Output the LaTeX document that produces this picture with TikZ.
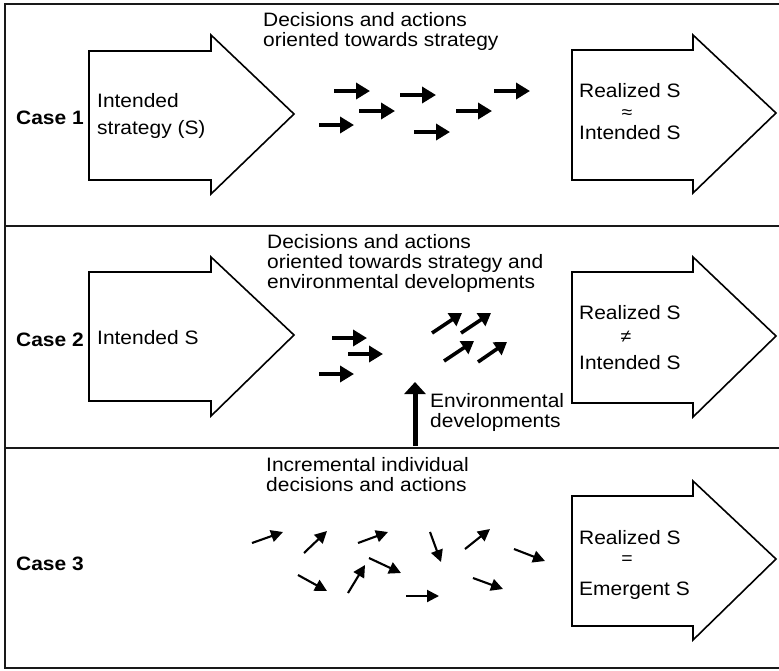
\documentclass[tikz,border=0pt]{standalone}
\usepackage{fontspec}
\setmainfont[FakeStretch=1.08]{Liberation Sans}
\usetikzlibrary{arrows.meta}
\begin{document}
\begin{tikzpicture}[x=1pt,y=-1pt,
  frame/.style={line width=2.2pt, color=black!90},
  bigarrow/.style={draw, line width=1.6pt, fill=white, line join=miter},
  txt/.style={inner sep=0pt, anchor=base west, font=\fontsize{19.4}{20}\selectfont, align=left},
  casename/.style={inner sep=0pt, anchor=base west, font=\fontsize{19.4}{20}\selectfont\bfseries},
  relsym/.style={inner sep=0pt, font=\fontsize{18}{18}\selectfont},
  thickarrow/.style={line width=4pt, -{Triangle[length=14pt,width=16pt]}},
  tiltarrow/.style={line width=3.6pt, -{Triangle[length=12pt,width=15pt]}},
  thinarrow/.style={line width=2.1pt, -{Triangle[length=12pt,width=12pt]}},
  envarrow/.style={line width=5pt, -{Triangle[length=12pt,width=21pt]}}
]
\useasboundingbox (0,0) rectangle (779,670);

% panel frame
\draw[frame] (779,4) -- (5,4) -- (5,668) -- (779,668);
\draw[frame] (5,226) -- (779,226);
\draw[frame] (5,448) -- (779,448);

% ---------- Case 1 ----------
\draw[bigarrow] (89,51) -- (211,51) -- (211,35) -- (294,114) -- (211,194) -- (211,180) -- (89,180) -- cycle;
\draw[bigarrow] (572,50) -- (693,50) -- (693,35) -- (776,113) -- (693,193) -- (693,180) -- (572,180) -- cycle;
\node[casename] (c1) at (16,124) {Case 1};
\node[txt] (c1in) at (97,134) {Intended\\[7pt]strategy (S)};
\node[txt] (c1t) at (263,46) {Decisions and actions\\oriented towards strategy};
\node[txt] (c1r1) at (579,97) {Realized S};
\node[relsym] (c1r2) at (627,114) {≈};
\node[txt] (c1r3) at (579,139) {Intended S};

\draw[thickarrow] (334,91) -- (370,91);
\draw[thickarrow] (359,111) -- (395,111);
\draw[thickarrow] (319,125) -- (354,125);
\draw[thickarrow] (400,95) -- (436,95);
\draw[thickarrow] (414,132) -- (450,132);
\draw[thickarrow] (456,111) -- (492,111);
\draw[thickarrow] (494,91) -- (530,91);

% ---------- Case 2 ----------
\draw[bigarrow] (89,272) -- (211,272) -- (211,257) -- (294,335) -- (211,416) -- (211,401) -- (89,401) -- cycle;
\draw[bigarrow] (572,272) -- (693,272) -- (693,257) -- (776,336) -- (693,417) -- (693,403) -- (572,403) -- cycle;
\node[casename] (c2) at (16,346) {Case 2};
\node[txt] (c2in) at (97,344) {Intended S};
\node[txt] (c2t) at (267,288) {Decisions and actions\\oriented towards strategy and\\environmental developments};
\node[txt] (c2r1) at (579,319) {Realized S};
\node[relsym] (c2r2) at (626,337) {≠};
\node[txt] (c2r3) at (579,369) {Intended S};

\draw[thickarrow] (332,338) -- (367,338);
\draw[thickarrow] (348,354) -- (383,354);
\draw[thickarrow] (319,374) -- (354,374);
\draw[tiltarrow] (432,333) -- (462,313);
\draw[tiltarrow] (461,333) -- (491,313);
\draw[tiltarrow] (444,361) -- (474,341);
\draw[tiltarrow] (478,362) -- (507,342);

\node[txt] (env) at (430,427) {Environmental\\developments};
\coordinate (envfoot) at (415,446);
\coordinate (envtip) at (415,382);
\draw[envarrow] (envfoot) -- (envtip);

% ---------- Case 3 ----------
\draw[bigarrow] (572,496) -- (693,496) -- (693,481) -- (776,559) -- (693,640) -- (693,626) -- (572,626) -- cycle;
\node[casename] (c3) at (16,570) {Case 3};
\node[txt] (c3t) at (266,491) {Incremental individual\\decisions and actions};
\node[txt] (c3r1) at (579,544) {Realized S};
\node[relsym] (c3r2) at (627,560) {=};
\node[txt] (c3r3) at (579,595) {Emergent S};

\draw[thinarrow] (252,543) -- (283,532);
\draw[thinarrow] (304,553) -- (327,531);
\draw[thinarrow] (358,543) -- (388,532);
\draw[thinarrow] (430,532) -- (441,562);
\draw[thinarrow] (465,549) -- (490,529);
\draw[thinarrow] (514,549) -- (545,561);
\draw[thinarrow] (298,575) -- (327,591);
\draw[thinarrow] (348,593) -- (365,565);
\draw[thinarrow] (369,558) -- (401,573);
\draw[thinarrow] (406,596) -- (439,596);
\draw[thinarrow] (473,578) -- (503,589);
\end{tikzpicture}
\end{document}
